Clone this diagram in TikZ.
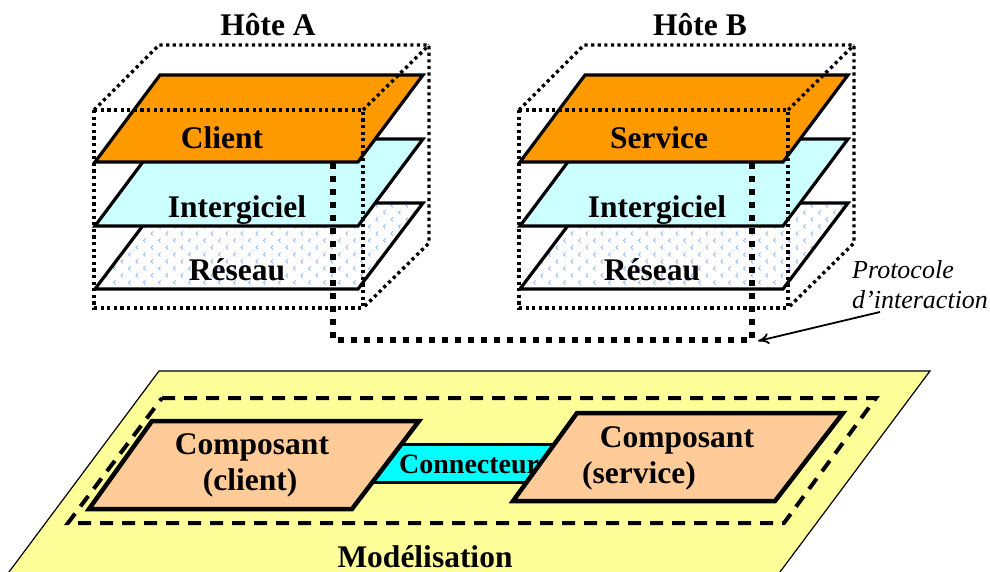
\documentclass[tikz,border=0pt]{standalone}
\usepackage{fontspec}
\setmainfont{Liberation Serif}
\usetikzlibrary{patterns,arrows.meta}
\definecolor{orangeA}{RGB}{255,153,0}
\definecolor{lightcyan}{RGB}{204,255,255}
\definecolor{patblue}{RGB}{150,190,250}
\definecolor{yellowbg}{RGB}{255,255,153}
\definecolor{peach}{RGB}{255,204,153}
\definecolor{conncyan}{RGB}{0,255,255}
\pgfdeclarepatternformonly{chevrons}{\pgfpoint{-1pt}{-1pt}}{\pgfpoint{16pt}{15pt}}{\pgfpoint{15pt}{14pt}}{%
  \pgfsetlinewidth{0.9pt}%
  \pgfpathmoveto{\pgfpoint{3pt}{0.5pt}}\pgfpathlineto{\pgfpoint{1pt}{2.5pt}}\pgfpathlineto{\pgfpoint{3pt}{4.5pt}}%
  \pgfpathmoveto{\pgfpoint{10.5pt}{7.5pt}}\pgfpathlineto{\pgfpoint{8.5pt}{9.5pt}}\pgfpathlineto{\pgfpoint{10.5pt}{11.5pt}}%
  \pgfusepath{stroke}}
\tikzset{
  layer/.style={draw=black, line width=3.2, line join=miter},
  dotbox/.style={draw=black, line width=3.4, dash pattern=on 3.2 off 3.4},
  proto/.style={draw=black, line width=6, dash pattern=on 6 off 7},
  comp/.style={draw=black, line width=4.5, fill=peach, line join=miter},
  big/.style={font=\fontsize{31.5}{36}\selectfont\bfseries, inner sep=0, anchor=base},
  small/.style={font=\fontsize{28}{32}\selectfont\bfseries, inner sep=0, anchor=base west},
  ital/.style={font=\fontsize{26}{30}\selectfont\itshape, inner sep=0, anchor=base west},
}
\begin{document}
\begin{tikzpicture}[x=1pt,y=-1pt]
\useasboundingbox (0,0) rectangle (990,572);
\clip (0,0) rectangle (990,572);
\fill[white] (0,0) rectangle (990,572);

% ---------- Host A ----------
\draw[layer, preaction={fill=white}, pattern=chevrons, pattern color=patblue]
  (95,289) -- (358,289) -- (423,203) -- (160,203) -- cycle;
\draw[layer, fill=lightcyan] (95,226) -- (358,226) -- (423,139) -- (160,139) -- cycle;
\draw[layer, fill=orangeA] (95,162) -- (358,162) -- (423,75) -- (160,75) -- cycle;
\node[big] (titleA) at (268,36) {Hôte A};
\node[big] (clientA) at (222,149) {Client};
\node[big] (midA) at (237,217) {Intergiciel};
\node[big] (netA) at (237,280) {Réseau};
\draw[dotbox] (94,110) rectangle (363,308);
\draw[dotbox] (94,110) -- (159,45) -- (429,45) -- (429,243) -- (363,308);
\draw[dotbox] (363,110) -- (429,45);
\coordinate (pa) at (333,163);

% ---------- Host B ----------
\begin{scope}[xshift=425]
\draw[layer, preaction={fill=white}, pattern=chevrons, pattern color=patblue]
  (95,289) -- (358,289) -- (423,203) -- (160,203) -- cycle;
\draw[layer, fill=lightcyan] (95,226) -- (358,226) -- (423,139) -- (160,139) -- cycle;
\draw[layer, fill=orangeA] (95,162) -- (358,162) -- (423,75) -- (160,75) -- cycle;
\node[big] (titleB) at (275,36) {Hôte B};
\node[big] (serviceB) at (234,149) {Service};
\node[big] (midB) at (232,217) {Intergiciel};
\node[big] (netB) at (227,280) {Réseau};
\draw[dotbox] (94,110) rectangle (363,308);
\draw[dotbox] (94,110) -- (159,45) -- (429,45) -- (429,243) -- (363,308);
\draw[dotbox] (363,110) -- (429,45);
\coordinate (pb) at (327,163);
\end{scope}

% ---------- protocol ----------
\draw[proto] (pa) -- ++(0,177) -| (pb);
\node[ital] (proto1) at (852,278) {Protocole};
\node[ital] (proto2) at (852,308) {d’interaction};
\coordinate (arrS) at (880,312);
\coordinate (arrE) at (758,341);
\draw[line width=1.8, -{To[length=11,width=11]}] (arrS) -- (arrE);

% ---------- modelling ----------
\draw[line width=1.2, fill=yellowbg] (159,371) -- (930,371) -- (777,576) -- (6,576) -- cycle;
\draw[line width=4, dash pattern=on 13 off 9] (162,398) -- (876,398) -- (784,523) -- (68,523) -- cycle;
\draw[line width=3, fill=conncyan] (360,444) rectangle (580,482);
\node[small] (conn) at (399,473) {Connecteur};
\draw[comp] (152,421) -- (419,421) -- (352,509) -- (89,509) -- cycle;
\draw[comp] (577,413) -- (843,413) -- (775,501) -- (513,501) -- cycle;
\node[big] (c1a) at (252,454) {Composant};
\node[big] (c1b) at (250,490) {(client)};
\node[big] (c2a) at (677,447) {Composant};
\node[big] (c2b) at (639,483) {(service)};
\node[big] (model) at (425,567) {Modélisation};
\end{tikzpicture}
\end{document}
